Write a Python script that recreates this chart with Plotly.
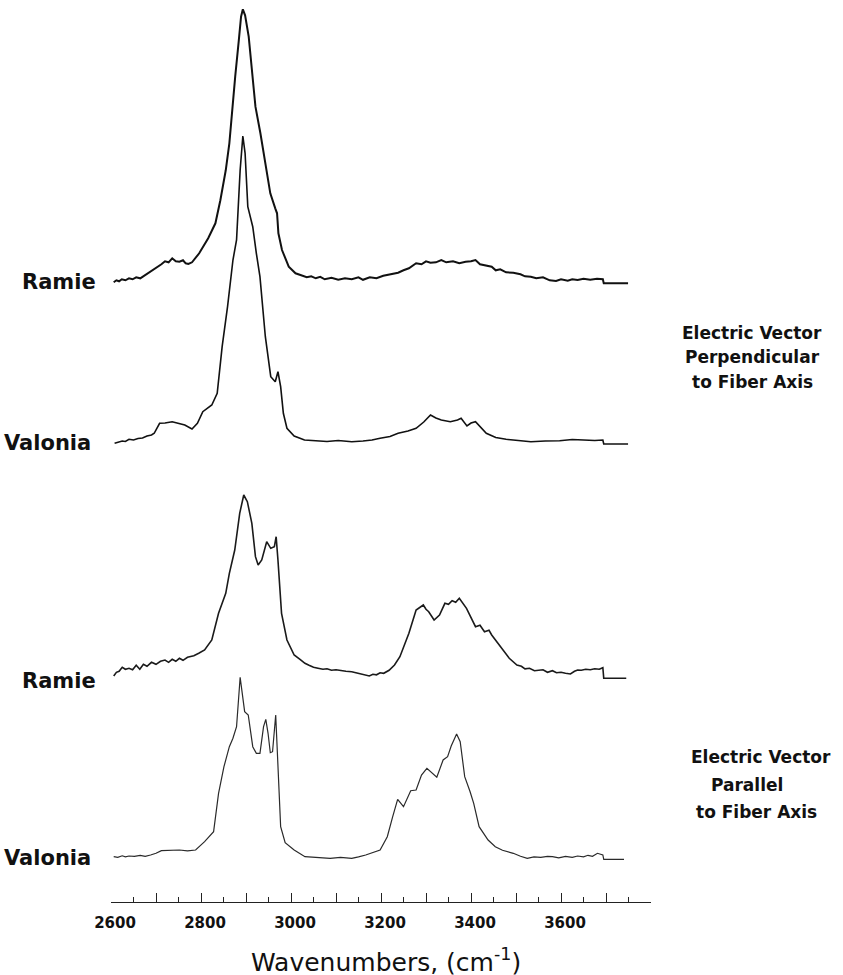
import plotly.graph_objects as go

# ---------------- data ----------------
# wavenumbers (cm-1) and relative Raman intensity (arbitrary units above each trace's baseline)
ramie_perp_wn = [2606, 2612, 2618, 2624, 2632, 2640, 2648, 2656, 2665, 2672, 2680, 2692, 2704, 2712, 2720, 2728,
                 2736, 2744, 2752, 2760, 2766, 2772, 2780, 2796, 2816,
                 2832, 2843, 2855, 2863, 2869, 2876, 2884, 2889, 2893, 2898, 2906, 2913, 2921, 2932, 2943, 2954,
                 2965, 2969, 2972, 2980, 2995, 3010, 3021, 3035, 3045, 3055, 3065, 3075, 3090, 3105, 3120, 3135, 3150,
                 3160, 3175, 3190, 3205, 3214, 3226, 3238, 3250, 3262, 3278, 3290, 3300, 3310, 3322, 3334, 3345, 3360,
                 3374, 3388, 3400, 3410, 3420, 3432, 3446, 3455, 3465, 3478, 3494, 3510, 3520, 3533, 3545, 3560,
                 3575, 3589, 3600, 3615, 3625, 3637, 3650, 3665, 3680, 3693, 3695, 3749]
ramie_perp_int = [1, 3, 2, 4, 3, 5, 4, 6, 5, 7, 10, 13, 16.6, 19, 22, 21,
                  25, 22, 21.6, 23, 20, 19.3, 21, 30, 45,
                  60, 83, 113, 140, 173, 206.6, 243, 266.6, 274, 268, 246.6, 216.6, 176.6, 150, 120, 90,
                  75, 70, 50, 33.3, 16.6, 10, 8.3, 6, 7, 5, 6.5, 4, 5.5, 3.5, 5, 4, 6,
                  3.5, 6, 5, 7.5, 8.3, 9.5, 10.6, 13, 15, 20, 19, 22, 20.6, 21, 23.3, 21, 22,
                  20, 21.5, 22, 23.3, 19, 18, 16.6, 13, 14, 11, 10.6, 9, 7, 6.6, 5, 6,
                  3, 2.3, 4, 2.5, 4, 3.3, 4.5, 3.5, 4.5, 4, 0, 0]

valonia_perp_wn = [2608, 2618, 2625, 2632, 2640, 2650, 2660, 2670, 2680, 2690, 2696, 2708, 2720, 2736, 2750, 2764,
                   2780, 2792, 2804, 2824, 2836, 2847, 2859,
                   2871, 2879, 2887, 2893, 2898, 2904, 2915, 2923, 2931, 2943, 2955, 2965, 2971, 2977, 2983, 2991,
                   3007, 3030, 3055, 3080, 3105, 3135, 3160, 3180, 3198, 3220, 3238, 3260, 3278, 3295, 3310, 3322, 3334,
                   3354, 3370, 3378, 3391, 3400, 3410, 3422, 3434, 3455, 3478, 3505, 3533, 3565, 3597, 3625, 3653, 3675,
                   3693, 3695, 3749]
valonia_perp_int = [0.7, 2, 3, 2.5, 4.7, 4, 5.5, 6, 8, 9, 10.7, 20.7, 21, 22.3, 21, 19,
                    15, 20.7, 32.3, 39, 50.7, 97.3, 137.3,
                    184, 204, 274, 308, 290.7, 237.3, 217.3, 190.7, 167.3, 107.3, 67.3, 62.3, 72.3, 57.3, 30.7, 15.7,
                    8, 4, 3, 2.5, 3.5, 2.3, 3, 4, 5.7, 7.5, 10.7, 13, 15.7, 22, 29, 26, 24,
                    22.3, 24, 25.7, 18, 21, 22.3, 16, 10.7, 6.5, 4.7, 3.5, 2.3, 3, 3.3, 4.5, 4, 3.5,
                    4, 0, 0]

ramie_par_wn = [2606, 2612, 2618, 2625, 2632, 2640, 2648, 2656, 2664, 2672, 2680, 2690, 2700, 2710, 2720, 2728,
                2736, 2744, 2752, 2760, 2770, 2784, 2795, 2808, 2824,
                2839, 2855, 2863, 2875, 2886, 2895, 2903, 2913, 2921, 2927, 2935, 2946, 2955, 2963, 2967, 2971,
                2979, 2991, 3007, 3020, 3031, 3040, 3050, 3060, 3071, 3080, 3090, 3100, 3110, 3122, 3135, 3145,
                3155, 3165, 3174, 3182, 3190, 3198, 3206, 3218, 3230, 3242, 3262,
                3278, 3288, 3294, 3300, 3306, 3318, 3330, 3342, 3350, 3358, 3366, 3374, 3390, 3410, 3420, 3430,
                3440, 3446, 3458, 3470, 3485, 3502, 3512, 3520, 3530, 3541, 3550, 3560, 3570, 3581, 3590, 3600,
                3610, 3621, 3630, 3637, 3645, 3655, 3665, 3675, 3685, 3693, 3695, 3745]
ramie_par_int = [2.3, 6, 7, 11, 9, 10, 8.5, 13, 9, 14, 12, 16, 14, 17, 18.3, 16,
                 19, 17, 20, 18, 21, 22.6, 25, 28.3, 38.3,
                 65, 85, 105, 128.3, 165, 183.3, 176.6, 155, 121.6, 113.3, 118.3, 136.6, 130, 131.6, 141.6, 118.3,
                 65, 38.3, 23.3, 19, 15, 13, 11, 10, 9, 9.5, 8, 8.5, 7.5, 7, 6.6, 5.5,
                 5, 4, 2.3, 4, 3.5, 5.5, 5, 8, 13.3, 21.6, 45,
                 68.3, 72, 73.3, 69, 66.6, 58.3, 63.3, 75, 74, 77.6, 76, 80, 70, 51.6, 53, 46.6,
                 48, 43.3, 36, 28.3, 20, 13.3, 12, 9.5, 10, 7.6, 8, 8.5, 6, 7.6, 5.5, 6,
                 5, 4.3, 7, 8.3, 8, 9, 8.5, 9.5, 9, 10.6, 0, 0]

valonia_par_wn = [2606, 2615, 2625, 2632, 2640, 2652, 2665, 2676, 2688, 2700, 2712, 2730, 2752, 2770, 2788, 2808,
                  2828, 2839, 2851, 2863, 2871, 2879, 2887,
                  2897, 2905, 2915, 2923, 2931, 2939, 2944, 2949, 2954, 2959, 2966, 2971, 2977, 2987, 3007, 3031,
                  3060, 3087, 3110, 3135, 3150, 3166, 3198, 3214, 3226, 3237, 3250, 3266, 3278, 3290, 3302, 3314, 3324,
                  3338, 3348, 3356, 3368, 3376, 3386, 3398, 3406, 3418, 3438, 3454, 3470, 3494, 3510, 3525, 3540, 3555,
                  3570, 3581, 3595, 3610, 3625, 3637, 3650, 3660, 3670, 3681, 3693, 3695, 3740]
valonia_par_int = [2.6, 2, 3.5, 2.5, 3.3, 3, 4, 3, 4.3, 6, 8.6, 9, 9.3, 8.5, 9.3, 17.6,
                   27.6, 66, 92.6, 112.6, 121, 132.6, 182,
                   147.6, 144.3, 112.6, 106, 106, 132.6, 140, 126, 106.6, 107.6, 144.3, 89.3, 32.6, 16.6, 9.3, 2.6,
                   1.5, 1, 2, 1, 2.5, 4.3, 9.3, 22.6, 42.6, 60, 52.6, 68.6, 69.3, 84.3, 91, 86, 82,
                   99.3, 102.6, 113.3, 125.3, 117.6, 82.6, 67.6, 56, 32.6, 19.3, 12.6, 9, 6, 3, 1, 2.5, 2,
                   3, 2.6, 1.5, 3, 2, 3.3, 2.5, 4, 3, 6, 4.3, 0, 0]

tick_values = [2600, 2700, 2800, 2900, 3000, 3100, 3200, 3300, 3400, 3500, 3600, 3700, 3800]
tick_labels = ["2600", "", "2800", "", "3000", "", "3200", "", "3400", "", "3600", "", ""]

sample_labels = ["Ramie", "Valonia", "Ramie", "Valonia"]

# ---------------- layout constants ----------------
W, H = 843, 975
L, R, T, B = 111, 192, 5, 73
plot_h = H - T - B

def px_x(px):
    return (px - L) / (W - L - R)

def px_y(py):
    return (H - B - py) / plot_h

offsets = [618.7, 458.0, 223.7, 42.7]
widths = [2.0, 1.6, 1.6, 1.2]
colors = ["#111111", "#111111", "#1a1a1a", "#2a2a2a"]

series = [
    (ramie_perp_wn, ramie_perp_int),
    (valonia_perp_wn, valonia_perp_int),
    (ramie_par_wn, ramie_par_int),
    (valonia_par_wn, valonia_par_int),
]

fig = go.Figure()
for (wn, inten), off, lw, c, name in zip(series, offsets, widths, colors, sample_labels):
    fig.add_trace(go.Scatter(
        x=wn, y=[off + v for v in inten], mode="lines",
        line=dict(color=c, width=lw), name=name, showlegend=False, hoverinfo="skip"))

label_font = dict(family="DejaVu Sans", size=21, color="#111111", weight="bold")
label_pos = [(98, 282), (93, 443), (98, 681), (93, 858)]
for text, (rx, cy) in zip(sample_labels, label_pos):
    fig.add_annotation(text=text, xref="paper", yref="paper", x=px_x(rx), y=px_y(cy),
                       xanchor="right", yanchor="middle", showarrow=False, font=label_font)

note_font = dict(family="DejaVu Sans", size=17, color="#111111", weight="bold")
notes = [("Electric Vector", 752, 333), ("Perpendicular", 752, 357), ("to Fiber Axis", 752, 382),
         ("Electric Vector", 761, 757), ("Parallel", 747, 785), ("to Fiber Axis", 756, 812)]
for text, cx, cy in notes:
    fig.add_annotation(text=text, xref="paper", yref="paper", x=px_x(cx), y=px_y(cy),
                       xanchor="center", yanchor="middle", showarrow=False, font=note_font)

fig.add_annotation(text="Wavenumbers, (cm<sup>-1</sup>)", xref="paper", yref="paper",
                   x=px_x(385.5), y=px_y(961), xanchor="center", yanchor="middle", showarrow=False,
                   font=dict(family="DejaVu Sans", size=25, color="#111111"))

fig.update_layout(
    width=W, height=H, margin=dict(l=L, r=R, t=T, b=B),
    paper_bgcolor="white", plot_bgcolor="white",
    xaxis=dict(range=[2600, 3800], showline=True, linecolor="#222222", linewidth=1,
               showgrid=False, zeroline=False, ticks="inside", ticklen=9, tickwidth=1, tickcolor="#222222",
               tickvals=tick_values, ticktext=tick_labels, ticklabelshift=4, ticklabelstandoff=7,
               tickfont=dict(family="DejaVu Sans", size=15, color="#111111", weight="bold"),
               minor=dict(dtick=50, ticks="inside", ticklen=5, tickwidth=1, tickcolor="#222222", showgrid=False)),
    yaxis=dict(range=[0, plot_h], visible=False, showgrid=False, zeroline=False),
)

fig.write_html("out.html", config={"displayModeBar": False},
               post_script="document.body.style.margin='0';document.body.style.overflow='hidden';")
